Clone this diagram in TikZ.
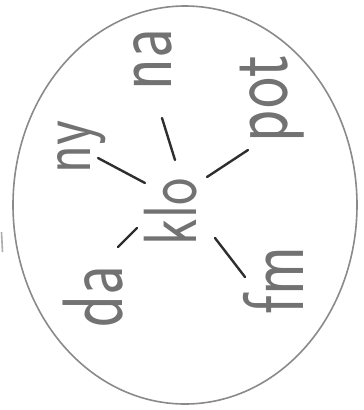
\documentclass[tikz,border=0pt]{standalone}
\usetikzlibrary{calc}
\definecolor{ellgray}{HTML}{8A8A8A}
\definecolor{txtgray}{HTML}{727272}
\definecolor{linkgray}{HTML}{2E2E2E}
\newcommand{\hand}[1]{\scalebox{1}[1.3]{#1}}
\begin{document}
\begin{tikzpicture}[x=1pt,y=-1pt,
  word/.style={rotate=90, text=txtgray, font=\sffamily\fontsize{58}{58}\selectfont, inner sep=0pt},
  bigword/.style={word, font=\sffamily\fontsize{66}{66}\selectfont},
  link/.style={draw=linkgray, line width=2.4pt, line cap=round}]
\useasboundingbox (0,0) rectangle (364,410);
\fill[white] (0,0) rectangle (364,410);
\draw[draw=ellgray, line width=1.6pt] (185,205) ellipse [x radius=172, y radius=199];
\draw[draw=ellgray!70, line width=1.6pt] (1.5,232) -- (2.5,252);
\node[word] (klo) at (171,212) {\hand{klo}};
\node[bigword] (da)  at (93,297)  {\hand{da}};
\node[word] (ny)  at (82,147)  {\hand{ny}};
\node[bigword] (na)  at (153,60)  {\hand{na}};
\node[bigword] (pot) at (272,99) {\hand{pot}};
\node[bigword] (fm)  at (273,280) {\hand{fm}};
\draw[link] ($(klo)+(-34,16)$) -- ($(da)+(25,-50)$);
\draw[link] ($(klo)+(-26,-29)$) -- ($(ny)+(16,11)$);
\draw[link] ($(klo)+(4,-52)$) -- ($(na)+(9,58)$);
\draw[link] ($(klo)+(36,-35)$) -- ($(pot)+(-24,51)$);
\draw[link] ($(klo)+(44,26)$) -- ($(fm)+(-28,-3)$);
\end{tikzpicture}
\end{document}
